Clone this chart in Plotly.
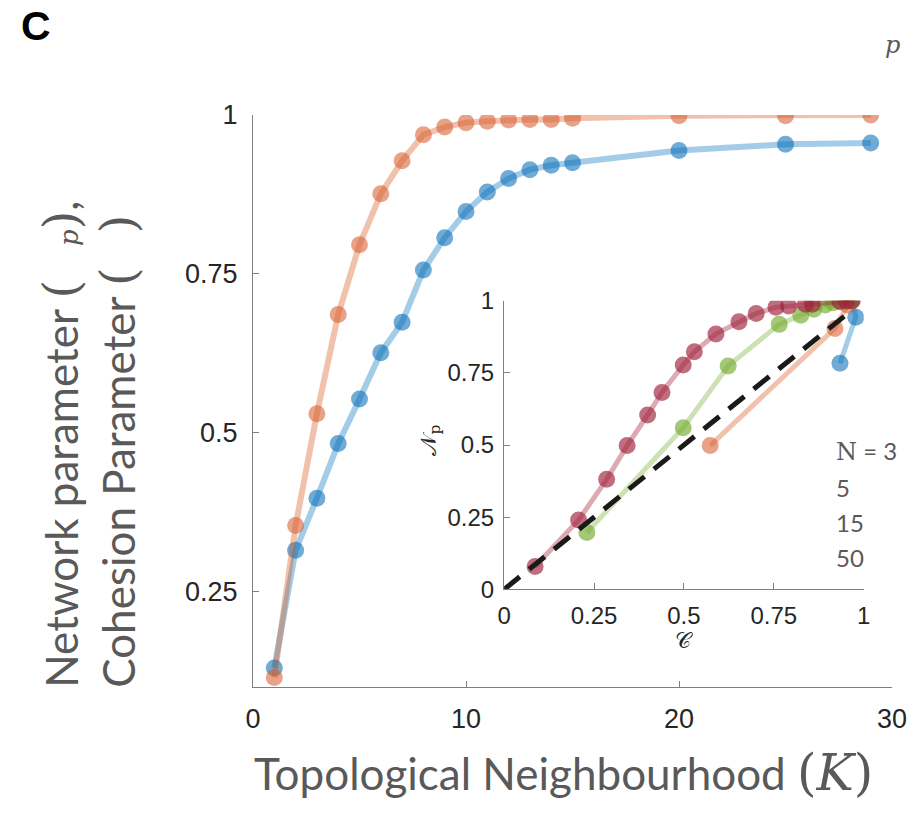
import plotly.graph_objects as go

# ---------------- data ----------------
K = [1, 2, 3, 4, 5, 6, 7, 8, 9, 10, 11, 12, 13, 14, 15, 20, 25, 29]
network_param = [0.115, 0.354, 0.530, 0.686, 0.796, 0.876, 0.928, 0.969, 0.981, 0.988,
                 0.990, 0.992, 0.993, 0.993, 0.995, 0.999, 0.999, 1.000]
cohesion_param = [0.130, 0.315, 0.397, 0.483, 0.553, 0.626, 0.674, 0.756, 0.807, 0.848,
                  0.879, 0.900, 0.914, 0.921, 0.925, 0.944, 0.954, 0.956]

main_xticks = [0, 10, 20, 30]
main_yticks = [0.25, 0.5, 0.75, 1]
main_yticklabels = ["0.25", "0.5", "0.75", "1"]

inset_ticks = [0, 0.25, 0.5, 0.75, 1]
inset_ticklabels = ["0", "0.25", "0.5", "0.75", "1"]

n3_C = [0.934, 0.978, 0.968]
n3_Np = [0.783, 0.943, 1.000]
n5_C = [0.573, 0.920, 0.955, 0.968]
n5_Np = [0.498, 0.904, 0.985, 1.000]
n15_C = [0.230, 0.498, 0.623, 0.765, 0.825, 0.861, 0.893, 0.915, 0.935, 0.950, 0.960, 0.966]
n15_Np = [0.197, 0.560, 0.774, 0.918, 0.950, 0.970, 0.985, 0.993, 0.997, 0.999, 1.000, 1.000]
n50_C = [0.086, 0.207, 0.285, 0.342, 0.399, 0.439, 0.498, 0.529, 0.589, 0.653, 0.701,
         0.756, 0.791, 0.838, 0.857, 0.934, 0.952, 0.966]
n50_Np = [0.079, 0.240, 0.381, 0.498, 0.604, 0.682, 0.777, 0.823, 0.885, 0.927, 0.956,
          0.977, 0.982, 0.988, 0.988, 0.997, 0.999, 1.000]
diag = [0, 0.955]

legend_labels = ["N = 3", "5", "15", "50"]

# ---------------- geometry (page pixels; page has an 8px body margin) ----------------
OFF = 8
PW, PH = 919, 815
W, H = PW - OFF, PH - OFF
L, R, T, B = 253, 901, 115, 687


def px(x):
    return (x - L) / (R - L)


def py(y):
    return (B - y) / (B - T)


GRAY = "#595959"
AX = "#7f7f7f"
TICKF = dict(family="Liberation Sans, Arial, sans-serif", size=27, color="#262626")

fig = go.Figure()


def add_series(x, y, line_rgba, marker_rgba, lw, ms, xa="x", ya="y"):
    fig.add_trace(go.Scatter(
        x=x, y=y, mode="lines+markers", xaxis=xa, yaxis=ya,
        line=dict(color=line_rgba, width=lw),
        marker=dict(color=marker_rgba, size=ms, line=dict(width=0)),
        showlegend=False, hoverinfo="skip"))


BLUE_L, BLUE_M = "rgba(0,114,189,0.36)", "rgba(0,105,180,0.56)"
ORNG_L, ORNG_M = "rgba(217,83,25,0.36)", "rgba(215,95,50,0.58)"
GRN_L, GRN_M = "rgba(119,172,48,0.36)", "rgba(119,172,48,0.66)"
RED_L, RED_M = "rgba(162,20,47,0.36)", "rgba(160,35,60,0.66)"

# main plot
add_series(K, cohesion_param, BLUE_L, BLUE_M, 6, 17)
add_series(K, network_param, ORNG_L, ORNG_M, 6, 17)

# inset
add_series(n3_C, n3_Np, BLUE_L, BLUE_M, 5, 17, "x2", "y2")
add_series(n5_C, n5_Np, ORNG_L, ORNG_M, 5, 17, "x2", "y2")
add_series(n15_C, n15_Np, GRN_L, GRN_M, 5, 17, "x2", "y2")
add_series(n50_C, n50_Np, RED_L, RED_M, 5, 17, "x2", "y2")
fig.add_trace(go.Scatter(x=diag, y=diag, mode="lines", xaxis="x2", yaxis="y2",
                         line=dict(color="#1a1a1a", width=5, dash="20px,12px"),
                         showlegend=False, hoverinfo="skip"))

axis_common = dict(showline=True, linecolor=AX, linewidth=1.3, ticks="inside",
                   tickcolor=AX, ticklen=6, tickwidth=1.3, showgrid=False,
                   zeroline=False, mirror=False)

fig.update_layout(
    width=W, height=H,
    margin=dict(l=L - OFF, r=PW - R, t=T - OFF, b=PH - B, pad=0),
    paper_bgcolor="white", plot_bgcolor="rgba(0,0,0,0)",
    showlegend=False,
    xaxis=dict(range=[0, 30], tickvals=main_xticks, ticklabelstandoff=7,
               tickfont=TICKF, **axis_common),
    yaxis=dict(range=[0.1, 1.0], tickvals=main_yticks, ticktext=main_yticklabels,
               ticklabelstandoff=9, tickfont=TICKF, **axis_common),
    xaxis2=dict(domain=[px(507.7), px(872.3)], anchor="y2", range=[0, 1],
                tickvals=inset_ticks, ticktext=inset_ticklabels, ticklabelstandoff=5,
                tickfont=dict(TICKF, size=24), **axis_common),
    yaxis2=dict(domain=[py(589.3), py(300.7)], anchor="x2", range=[0, 1],
                tickvals=inset_ticks, ticktext=inset_ticklabels, ticklabelstandoff=4,
                tickfont=dict(TICKF, size=24), **axis_common),
)

NB = "\u00a0"
serif = "DejaVu Serif, Liberation Serif, serif"
ann = []


def add_ann(x, y, text, **kw):
    d = dict(x=px(x), y=py(y), xref="paper", yref="paper", text=text, showarrow=False)
    d.update(kw)
    ann.append(d)


# panel letter
add_ann(33, 26, "<b>C</b>", xanchor="center", yanchor="middle",
        font=dict(family="Liberation Sans, Arial", size=41, color="black"))
# stray p top right
add_ann(901, 45, "<i>p</i>", xanchor="center", yanchor="middle",
        font=dict(family=serif, size=24, color=GRAY))
# y title (two lines, rotated)
par = lambda c: f"<span style='font-family:{serif};font-size:48px'>{c}</span>"
ytitle = ("Network parameter " + par("(") + NB * 3 +
          f"<span style='font-family:{serif};font-style:italic;font-size:26px'>p</span>"
          + par(")") + ","
          "<br>Cohesion Parameter " + par("(") + NB * 3 + par(")"))
add_ann(87, 690, ytitle, textangle=-90, xanchor="center", yanchor="bottom", align="left",
        font=dict(family="Lato, sans-serif", size=44, color=GRAY))
# x title
xtitle = ("Topological Neighbourhood " +
          f"<span style='font-family:{serif};font-size:50px'>(<i>K</i>)</span>")
add_ann(568, 773, xtitle, xanchor="center", yanchor="middle",
        font=dict(family="Lato, sans-serif", size=44, color=GRAY))
# inset axis labels
add_ann(690, 640, "\U0001D49E", xanchor="center", yanchor="middle",
        font=dict(family=serif, size=22, color="#262626"))
add_ann(433, 440, "\U0001D4A9<sub>p</sub>", textangle=-90, xanchor="center",
        yanchor="middle", font=dict(family=serif, size=22, color="#262626"))
# legend text
for lbl, yy in zip(legend_labels, [451, 487, 522, 557]):
    txt = lbl
    if lbl.startswith("N"):
        txt = f"<span style='font-family:{serif}'>N</span> = 3"
    add_ann(842, yy, txt, xanchor="left", yanchor="middle",
            font=dict(family="Lato, sans-serif", size=24, color=GRAY))

fig.update_layout(annotations=ann)
fig.write_html("out.html")
